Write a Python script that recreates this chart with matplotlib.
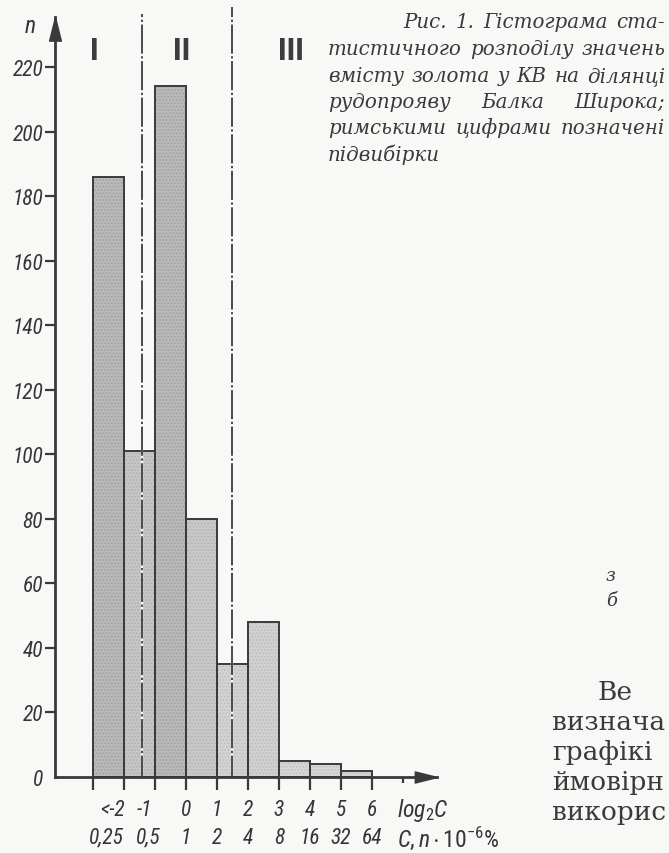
import matplotlib
matplotlib.use('Agg')
import matplotlib.pyplot as plt
from matplotlib import font_manager
from matplotlib.path import Path

# ---------------- data ----------------
bin_left = [-3, -2, -1, 0, 1, 2, 3, 4, 5]          # log2 C, left bin edges
counts = [186, 101, 214, 80, 35, 48, 5, 4, 2]
log_labels = ['<-2', '-1', '0', '1', '2', '3', '4', '5', '6']
conc_labels = ['0,25', '0,5', '1', '2', '4', '8', '16', '32', '64']
label_values = [-2, -1, 0, 1, 2, 3, 4, 5, 6]
x_edges = list(range(-3, 8))
y_ticks = list(range(0, 221, 20))
subsample_bounds = [-1.42, 1.48]
subsample_names = ['I', 'II', 'III']

caption_lines = [
    'Рис. 1. Гістограма ста-',
    'тистичного розподілу значень',
    'вмісту золота у КВ на ділянці',
    'рудопрояву Балка Широка;',
    'римськими цифрами позначені',
    'підвибірки',
]
body_lines = ['Ве', 'визнача', 'графікі', 'ймовірн', 'викорис']
side_fragments = ['з', 'б']

# ---------------- styles ----------------
W, H = 669, 854
bg = '#f8f8f7'
ink = '#353535'
bar_fill = ['#b9b9b9', '#c6c6c6', '#b9b9b9', '#c9c9c9', '#d3d3d3',
            '#d1d1d1', '#d6d6d6', '#d6d6d6', '#d6d6d6']
bar_dots = ['#a2a2a2', '#b0b0b0', '#a2a2a2', '#b3b3b3', '#bebebe',
            '#bcbcbc', '#c0c0c0', '#c0c0c0', '#c0c0c0']

names = {f.name for f in font_manager.fontManager.ttflist}
narrow = 'Liberation Sans'
lab_size = 12.5
for cand in ['Liberation Sans Narrow', 'DejaVu Sans Condensed', 'Roboto Condensed',
             'Open Sans Condensed']:
    if cand in names:
        narrow = cand
        lab_size = 15.5
        break
serif = 'DejaVu Serif'

plt.rcParams['mathtext.fontset'] = 'custom'
plt.rcParams['mathtext.rm'] = narrow
plt.rcParams['mathtext.it'] = narrow + ':italic'
plt.rcParams['mathtext.default'] = 'it'
plt.rcParams['hatch.linewidth'] = 0.8

fig = plt.figure(figsize=(W / 100, H / 100), dpi=100, facecolor=bg)
# axes: y-axis at px 55, x arrow tip at px 437, baseline at px 778, y arrow tip at px 18
ax = fig.add_axes([55 / W, (H - 778) / H, (437 - 55) / W, (778 - 18) / H])
ax.set_facecolor('none')
ax.set_xlim(-3 - 38 / 31, -3 + 344 / 31)
ax.set_ylim(0, 760 / 3.227)

# bars: stipple layer + outline layer
for xl, c, fc, dc in zip(bin_left, counts, bar_fill, bar_dots):
    ax.bar(xl, c, width=1, align='edge', color=fc, edgecolor=dc,
           hatch='.....', linewidth=0, zorder=2)
ax.bar(bin_left, counts, width=1, align='edge', facecolor='none',
       edgecolor='#3a3a3a', linewidth=1.4, zorder=3)

# subsample boundaries
for b, top in zip(subsample_bounds, [1.004, 1.013]):
    ax.axvline(b, ymin=0, ymax=top, color='white', lw=1.6, clip_on=False, zorder=4)
    ax.axvline(b, ymin=0, ymax=top, color='#4a4a4a', lw=1.4, clip_on=False, zorder=5,
               linestyle=(4, (15, 1.3, 1.2, 1.3)))

# spines / axes
for s in ['top', 'right']:
    ax.spines[s].set_visible(False)
for s in ['left', 'bottom']:
    ax.spines[s].set_linewidth(2.0)
    ax.spines[s].set_color('#3a3a3a')
    ax.spines[s].set_zorder(6)

arrow_up = Path([(0, 0), (-0.5, -2), (0.5, -2), (0, 0)],
                [Path.MOVETO, Path.LINETO, Path.LINETO, Path.CLOSEPOLY])
arrow_right = Path([(0, 0), (-2, -0.5), (-2, 0.5), (0, 0)],
                   [Path.MOVETO, Path.LINETO, Path.LINETO, Path.CLOSEPOLY])
ax.plot(0, 1, marker=arrow_up, markersize=34, color='#3a3a3a',
        transform=ax.transAxes, clip_on=False, zorder=7)
ax.plot(1, 0, marker=arrow_right, markersize=32, color='#3a3a3a',
        transform=ax.transAxes, clip_on=False, zorder=7)

ax.set_yticks(y_ticks)
ax.set_yticklabels([str(v) for v in y_ticks])
ax.tick_params(axis='y', direction='out', length=7, width=1.6, pad=1.5,
               labelsize=lab_size, colors='#3a3a3a', labelcolor=ink)
for lab in ax.get_yticklabels():
    lab.set_fontfamily(narrow)
    lab.set_fontstyle('italic')
ax.yaxis.get_major_ticks()[0].tick1line.set_visible(False)

ax.set_xticks(x_edges)
ax.tick_params(axis='x', direction='out', length=9, width=1.6,
               labelbottom=False, colors='#3a3a3a')
ax.xaxis.get_major_ticks()[-1].tick1line.set_markersize(4)

# x labels (two rows)
lab_kw = dict(fontfamily=narrow, fontstyle='italic', color=ink,
              textcoords='offset points', annotation_clip=False, va='center')
for v, t1, t2 in zip(label_values, log_labels, conc_labels):
    if t1.startswith('<'):
        ax.annotate(t1, xy=(v, 0), xytext=(0.7, -23.5), ha='right', fontsize=lab_size, **lab_kw)
        ax.annotate(t2, xy=(v, 0), xytext=(0, -43.5), ha='right', fontsize=lab_size, **lab_kw)
    elif t1.startswith('-'):
        ax.annotate(t1, xy=(v, 0), xytext=(-2, -23.5), ha='right', fontsize=lab_size, **lab_kw)
        ax.annotate(t2, xy=(v, 0), xytext=(-5, -43.5), ha='center', fontsize=lab_size, **lab_kw)
    else:
        ax.annotate(t1, xy=(v, 0), xytext=(0, -23.5), ha='center', fontsize=lab_size, **lab_kw)
        ax.annotate(t2, xy=(v, 0), xytext=(0, -43.5), ha='center', fontsize=lab_size, **lab_kw)
ax.annotate(r'$log_{2}C$', xy=(x_edges[-1], 0), xytext=(-4, -23.5),
            ha='left', fontsize=lab_size + 1.5, **lab_kw)
ax.annotate(r'$C,n\cdot 10^{-6}\%$',
            xy=(x_edges[-1], 0), xytext=(-4, -43.5), ha='left',
            fontsize=lab_size + 1.5, **lab_kw)

# roman numerals (subsamples)
roman_x = [bin_left[0] + 0.03, (subsample_bounds[0] + subsample_bounds[1]) / 2 - 0.16, 3.39]
for name, rx in zip(subsample_names, roman_x):
    ax.annotate(name, xy=(rx, (778 - 51) / 760), xycoords=('data', 'axes fraction'),
                ha='center', va='center',
                fontfamily=narrow, fontweight='bold', fontsize=23, color='#3c3c3c',
                annotation_clip=False)

# axis name n
fig.text(30 / W, 1 - 33 / H, 'n', fontfamily=narrow, fontstyle='italic',
         fontsize=lab_size + 1.5, color=ink, ha='center', va='baseline')

# caption text, justified
renderer = fig.canvas.get_renderer()


def place_line(line, x0, x1, ybase, justify=True, **kw):
    words = line.split()
    texts = [fig.text(0, 0, w, va='baseline', ha='left', **kw) for w in words]
    widths = [t.get_window_extent(renderer).width for t in texts]
    if justify and len(words) > 1:
        gap = (x1 - x0 - sum(widths)) / (len(words) - 1)
    else:
        gap = 8
    x = x0
    for t, w in zip(texts, widths):
        t.set_position((x / W, 1 - ybase / H))
        x += w + gap


cap_kw = dict(fontfamily=serif, fontstyle='italic', fontsize=14.3, color='#3a3a3a')
cap_base = [28, 55, 82, 108, 134, 161]
cap_x0 = [403, 328, 328, 328, 328, 328]
for i, line in enumerate(caption_lines):
    place_line(line, cap_x0[i], 665, cap_base[i], justify=(i < len(caption_lines) - 1), **cap_kw)

# fragments of the surrounding page text
body_kw = dict(fontfamily=serif, fontsize=19, color='#3a3a3a', va='baseline', ha='left')
body_x = [598, 552, 552, 552, 552]
body_base = [700, 730, 760, 790, 820]
for t, bx, by in zip(body_lines, body_x, body_base):
    fig.text(bx / W, 1 - by / H, t, **body_kw)
frag_kw = dict(fontfamily=serif, fontstyle='italic', fontsize=13, color='#3a3a3a',
               va='baseline', ha='left')
for t, fy in zip(side_fragments, [581, 606]):
    fig.text(606 / W, 1 - fy / H, t, **frag_kw)

fig.savefig('out.png', dpi=100, facecolor=bg)
